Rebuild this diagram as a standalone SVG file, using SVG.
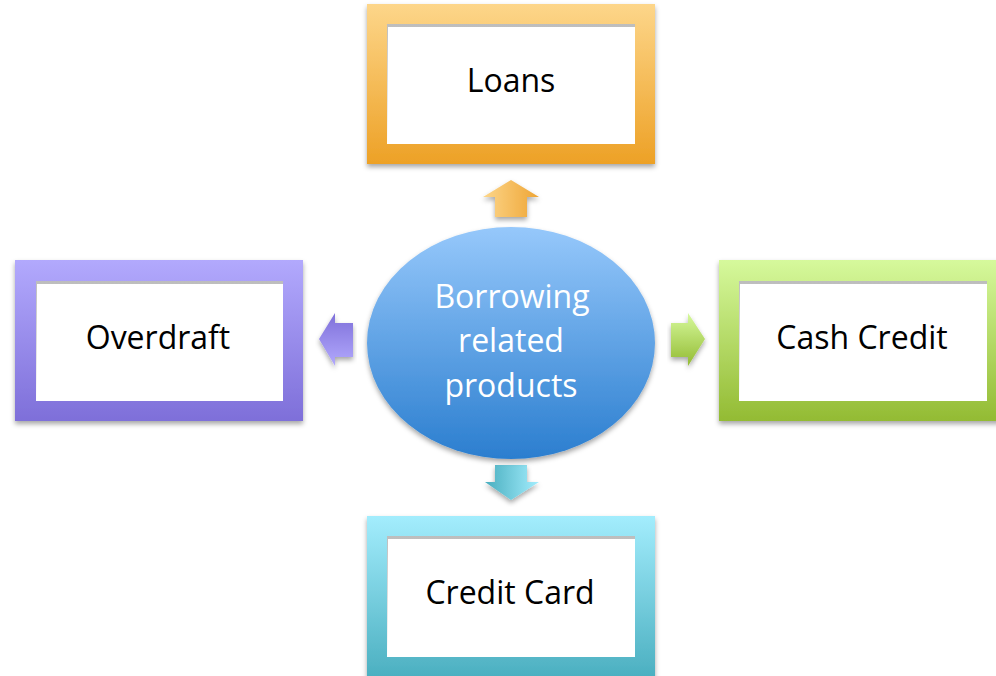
<svg xmlns="http://www.w3.org/2000/svg" width="996" height="676" viewBox="0 0 996 676">
<defs>
<linearGradient id="gOr" x1="0" y1="0" x2="0" y2="1"><stop offset="0" stop-color="#FDD68A"/><stop offset="1" stop-color="#EDA126"/></linearGradient>
<linearGradient id="gPu" x1="0" y1="0" x2="0" y2="1"><stop offset="0" stop-color="#B2A9FD"/><stop offset="1" stop-color="#7E6FD9"/></linearGradient>
<linearGradient id="gGr" x1="0" y1="0" x2="0" y2="1"><stop offset="0" stop-color="#D6F99C"/><stop offset="1" stop-color="#93BB33"/></linearGradient>
<linearGradient id="gCy" x1="0" y1="0" x2="0" y2="1"><stop offset="0" stop-color="#A3EDFD"/><stop offset="1" stop-color="#49AEBF"/></linearGradient>
<linearGradient id="gBl" x1="0" y1="0" x2="0" y2="1"><stop offset="0" stop-color="#96C8FB"/><stop offset="1" stop-color="#2B7ECF"/></linearGradient>
<linearGradient id="aOr" x1="0" y1="0" x2="1" y2="0"><stop offset="0" stop-color="#FDD68A"/><stop offset="1" stop-color="#EEA535"/></linearGradient>
<linearGradient id="aPu" x1="0" y1="0" x2="0" y2="1"><stop offset="0" stop-color="#7E6FD9"/><stop offset="1" stop-color="#B2A9FD"/></linearGradient>
<linearGradient id="aGr" x1="0" y1="0" x2="0" y2="1"><stop offset="0" stop-color="#D6F99C"/><stop offset="1" stop-color="#93BB33"/></linearGradient>
<linearGradient id="aCy" x1="0" y1="0" x2="1" y2="0"><stop offset="0" stop-color="#49AEBF"/><stop offset="1" stop-color="#A3EDFD"/></linearGradient>
<linearGradient id="inner" x1="0" y1="0" x2="0" y2="1"><stop offset="0" stop-color="#BDBDBD"/><stop offset="1" stop-color="#FFFFFF"/></linearGradient>
<filter id="sh" x="-10%" y="-10%" width="120%" height="130%"><feDropShadow dx="0" dy="3" stdDeviation="2.5" flood-color="#000" flood-opacity="0.35"/></filter>
</defs>
<style>
.lbl{font-family:"Open Sans","Liberation Sans",sans-serif;font-size:32px;fill:#000;text-anchor:middle}
.ctr{font-family:"Open Sans","Liberation Sans",sans-serif;font-size:32px;fill:#FFFFFF;text-anchor:middle}
.in{fill:#FFFFFF}
.inshade{fill:url(#inner)}
</style>
<rect width="996" height="676" fill="#FFFFFF"/>

<g id="connectors">
<path d="M511 180 L539 197 L527 197 L527 217 L495 217 L495 197 L483 197 Z" fill="url(#aOr)" filter="url(#sh)"/>
<path d="M319 339 L335 313 L335 323 L353 323 L353 357 L335 357 L335 366 Z" fill="url(#aPu)" filter="url(#sh)"/>
<path d="M705 339 L688 313 L688 323 L671 323 L671 357 L688 357 L688 366 Z" fill="url(#aGr)" filter="url(#sh)"/>
<path d="M511 500 L539 482 L527 482 L527 465 L495 465 L495 482 L485 482 Z" fill="url(#aCy)" filter="url(#sh)"/>
</g>

<g id="loans">
<rect x="367" y="4" width="288" height="160" fill="url(#gOr)" filter="url(#sh)"/>
<rect x="387" y="24" width="248" height="120" class="inshade"/>
<rect x="388" y="27" width="247" height="117" class="in"/>
<text x="511" y="92" class="lbl">Loans</text>
</g>

<g id="overdraft">
<rect x="15" y="260" width="288" height="161" fill="url(#gPu)" filter="url(#sh)"/>
<rect x="36" y="281" width="247" height="120" class="inshade"/>
<rect x="37" y="284" width="246" height="117" class="in"/>
<text x="158" y="349" class="lbl">Overdraft</text>
</g>

<g id="cash-credit">
<rect x="719" y="260" width="290" height="161" fill="url(#gGr)" filter="url(#sh)"/>
<rect x="739" y="281" width="248" height="120" class="inshade"/>
<rect x="740" y="284" width="247" height="117" class="in"/>
<text x="862" y="349" class="lbl">Cash Credit</text>
</g>

<g id="credit-card">
<rect x="367" y="516" width="288" height="165" fill="url(#gCy)" filter="url(#sh)"/>
<rect x="387" y="536" width="248" height="121" class="inshade"/>
<rect x="388" y="539" width="247" height="118" class="in"/>
<text x="510" y="604" class="lbl">Credit Card</text>
</g>

<g id="center">
<ellipse cx="511" cy="343" rx="144" ry="116" fill="url(#gBl)" filter="url(#sh)"/>
<text x="512" y="308" class="ctr">Borrowing</text>
<text x="511" y="352" class="ctr">related</text>
<text x="511" y="397" class="ctr">products</text>
</g>
</svg>
